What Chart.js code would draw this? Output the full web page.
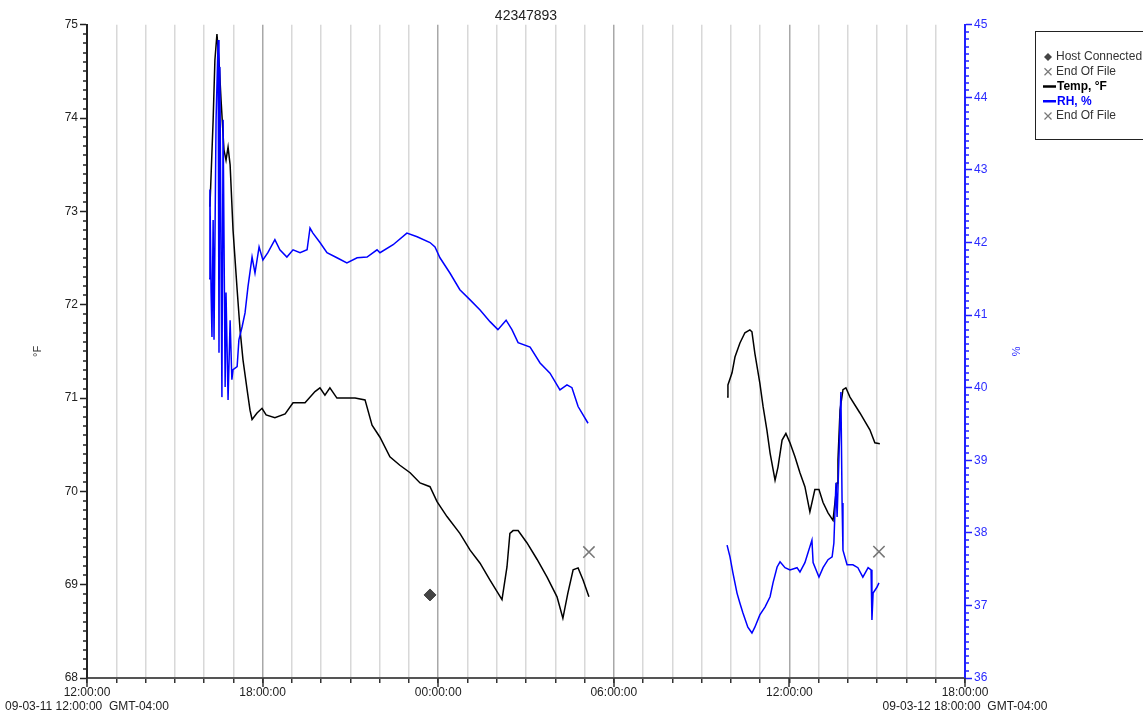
<!DOCTYPE html>
<html>
<head>
<meta charset="utf-8">
<script src="https://cdn.jsdelivr.net/npm/chart.js@4.4.0/dist/chart.umd.min.js"></script>
<style>
  html, body { margin: 0; padding: 0; background: #fff; }
</style>
</head>
<body>
<canvas id="logChart" width="1143" height="715"></canvas>
<script>
const chartTitle = '42347893';

// hours after 09-03-11 12:00:00, null splits the two logging runs
const tempHours = [4.20, 4.31, 4.37, 4.44, 4.51, 4.58, 4.68, 4.75, 4.82, 4.89,
  4.99, 5.13, 5.23, 5.33, 5.47, 5.57, 5.64, 5.81, 5.98, 6.12,
  6.42, 6.77, 7.04, 7.45, 7.79, 7.96, 8.13, 8.30, 8.54, 9.16,
  9.50, 9.74, 10.01, 10.35, 10.69, 11.04, 11.38, 11.72, 11.96, 12.30,
  12.74, 13.09, 13.43, 13.77, 14.18, 14.35, 14.45, 14.56, 14.73, 15.03,
  15.38, 15.72, 16.06, 16.26, 16.43, 16.61, 16.78, 16.95, 17.15,
  19.5,
  21.87, 21.90, 22.04, 22.14, 22.31, 22.48, 22.65, 22.72, 22.82, 22.99,
  23.10, 23.23, 23.34, 23.51, 23.61, 23.75, 23.88, 24.02, 24.19, 24.36,
  24.53, 24.70, 24.87, 25.01, 25.15, 25.32, 25.49, 25.63, 25.66, 25.73,
  25.83, 25.93, 26.07, 26.41, 26.75, 26.92, 27.09];
const tempValues = [73.05, 73.98, 74.62, 74.90, 74.62, 74.20, 73.66, 73.55, 73.69, 73.50,
  72.80, 72.16, 71.73, 71.41, 71.09, 70.87, 70.77, 70.84, 70.89, 70.82,
  70.79, 70.83, 70.95, 70.95, 71.07, 71.11, 71.03, 71.11, 71.00, 71.00,
  70.98, 70.71, 70.58, 70.37, 70.28, 70.20, 70.09, 70.05, 69.89, 69.73,
  69.55, 69.37, 69.23, 69.05, 68.84, 69.19, 69.55, 69.58, 69.58, 69.45,
  69.27, 69.08, 68.87, 68.64, 68.91, 69.16, 69.18, 69.05, 68.87,
  null,
  71.01, 71.14, 71.27, 71.44, 71.59, 71.70, 71.73, 71.71, 71.48, 71.16,
  70.91, 70.66, 70.41, 70.12, 70.26, 70.55, 70.62, 70.52, 70.37, 70.20,
  70.05, 69.78, 70.02, 70.02, 69.88, 69.77, 69.69, 70.09, 70.34, 70.87,
  71.09, 71.11, 71.01, 70.84, 70.66, 70.52, 70.51];

const rhHours = [4.17, 4.20, 4.24, 4.27, 4.31, 4.34, 4.41, 4.48, 4.51, 4.54,
  4.61, 4.65, 4.72, 4.75, 4.82, 4.89, 4.95, 4.99, 5.13, 5.19,
  5.30, 5.40, 5.50, 5.64, 5.74, 5.88, 6.01, 6.18, 6.42, 6.59,
  6.83, 7.04, 7.28, 7.52, 7.62, 7.72, 7.96, 8.20, 8.54, 8.88,
  9.23, 9.57, 9.91, 10.01, 10.46, 10.93, 11.28, 11.72, 11.89, 12.06,
  12.40, 12.74, 13.09, 13.43, 13.77, 14.04, 14.32, 14.52, 14.73, 15.14,
  15.48, 15.82, 16.16, 16.40, 16.57, 16.78, 17.12,
  19.5,
  21.87, 21.97, 22.07, 22.21, 22.31, 22.41, 22.58, 22.72, 22.82, 22.99,
  23.17, 23.34, 23.44, 23.58, 23.68, 23.85, 24.02, 24.26, 24.36, 24.53,
  24.63, 24.77, 24.81, 24.94, 25.01, 25.15, 25.32, 25.46, 25.52, 25.59,
  25.63, 25.69, 25.76, 25.80, 25.83, 25.97, 26.17, 26.34, 26.51, 26.69,
  26.79, 26.82, 26.86, 26.99, 27.06];
const rhValues = [41.50, 42.73, 41.31, 40.70, 42.31, 40.66, 43.69, 44.79, 40.48, 44.42,
  39.87, 43.69, 40.01, 41.31, 39.83, 40.93, 40.11, 40.25, 40.29, 40.66,
  40.84, 41.03, 41.39, 41.80, 41.58, 41.94, 41.76, 41.86, 42.04, 41.90,
  41.80, 41.90, 41.86, 41.90, 42.20, 42.13, 42.00, 41.86, 41.79, 41.72,
  41.79, 41.80, 41.90, 41.86, 41.97, 42.13, 42.08, 42.00, 41.94, 41.79,
  41.58, 41.35, 41.21, 41.07, 40.91, 40.80, 40.93, 40.80, 40.62, 40.56,
  40.34, 40.20, 39.97, 40.04, 40.00, 39.74, 39.51,
  null,
  37.83, 37.67, 37.45, 37.17, 37.03, 36.90, 36.70, 36.62, 36.70, 36.87,
  36.98, 37.12, 37.31, 37.53, 37.60, 37.52, 37.49, 37.52, 37.46, 37.59,
  37.72, 37.90, 37.59, 37.46, 37.39, 37.52, 37.63, 37.67, 37.86, 38.69,
  38.22, 39.00, 39.94, 38.41, 37.76, 37.56, 37.56, 37.52, 37.39, 37.52,
  37.49, 36.80, 37.17, 37.25, 37.31];

const hostHours = [11.72];
const hostValues = [68.89];
const eofTempHours = [17.15];
const eofTempValues = [69.35];
const eofRhHours = [27.06];
const eofRhValues = [37.74];

const tickHours = [0, 6, 12, 18, 24, 30];
const tickLabels = ['12:00:00', '18:00:00', '00:00:00', '06:00:00', '12:00:00', '18:00:00'];
const rangeLabels = ['09-03-11 12:00:00  GMT-04:00', '09-03-12 18:00:00  GMT-04:00'];

const ctx = document.getElementById('logChart');

function points(hours, values) {
    return hours.map((h, i) => ({ x: h, y: values[i] }));
}

Chart.defaults.font.family = '"Liberation Sans", Arial, sans-serif';
Chart.defaults.font.size = 12;

// minor ticks on both value axes, longer ticks every 6 hours
const minorTicks = {
    id: 'minorTicks',
    afterDraw(chart) {
        const c = chart.ctx;
        const y = chart.scales.y;
        const y1 = chart.scales.y1;
        const x = chart.scales.x;
        c.save();
        c.lineWidth = 1.5;
        c.strokeStyle = '#222';
        for (let v = y.min * 10; v <= y.max * 10; v++) {
            if (v % 10 === 0) continue;
            const py = Math.round(y.getPixelForValue(v / 10));
            c.beginPath(); c.moveTo(y.right - 4, py); c.lineTo(y.right, py); c.stroke();
        }
        c.strokeStyle = '#2020ff';
        for (let v = y1.min * 10; v <= y1.max * 10; v++) {
            if (v % 10 === 0) continue;
            const py = Math.round(y1.getPixelForValue(v / 10));
            c.beginPath(); c.moveTo(y1.left, py); c.lineTo(y1.left + 4, py); c.stroke();
        }
        c.strokeStyle = '#333';
        tickHours.forEach(h => {
            const px = Math.round(x.getPixelForValue(h));
            c.beginPath(); c.moveTo(px, x.top); c.lineTo(px, x.top + 9); c.stroke();
        });
        c.restore();
    }
};

// boxed legend at the top right
const boxLegend = {
    id: 'boxLegend',
    afterDraw(chart) {
        const c = chart.ctx;
        const bx = 1035.5, by = 31.5;
        c.save();
        c.strokeStyle = '#222';
        c.lineWidth = 1;
        c.strokeRect(bx, by, 130, 108);
        c.textBaseline = 'middle';
        chart.data.datasets.forEach((ds, i) => {
            const cy = 57 + i * 14.75;
            if (ds.showLine === false) {
                c.strokeStyle = ds.borderColor;
                c.fillStyle = ds.backgroundColor;
                if (ds.pointStyle === 'rectRot') {
                    c.beginPath();
                    c.moveTo(1048, cy - 4); c.lineTo(1052, cy); c.lineTo(1048, cy + 4); c.lineTo(1044, cy);
                    c.closePath(); c.fill();
                } else {
                    c.lineWidth = 1.2;
                    c.beginPath();
                    c.moveTo(1044.5, cy - 3.5); c.lineTo(1051.5, cy + 3.5);
                    c.moveTo(1051.5, cy - 3.5); c.lineTo(1044.5, cy + 3.5);
                    c.stroke();
                }
                c.fillStyle = '#333';
                c.font = '12px "Liberation Sans", Arial, sans-serif';
                c.fillText(ds.label, 1056, cy);
            } else {
                c.strokeStyle = ds.borderColor;
                c.lineWidth = 2.5;
                c.beginPath(); c.moveTo(1043, cy); c.lineTo(1056, cy); c.stroke();
                c.fillStyle = ds.borderColor;
                c.font = 'bold 12px "Liberation Sans", Arial, sans-serif';
                c.fillText(ds.label, 1057, cy);
            }
        });
        c.restore();
    }
};

new Chart(ctx, {
    type: 'line',
    data: {
        datasets: [{
            label: 'Host Connected',
            data: points(hostHours, hostValues),
            showLine: false,
            pointStyle: 'rectRot',
            pointRadius: 6,
            backgroundColor: '#444',
            borderColor: '#444',
            yAxisID: 'y',
            order: 0
        }, {
            label: 'End Of File',
            data: points(eofTempHours, eofTempValues),
            showLine: false,
            pointStyle: 'crossRot',
            pointRadius: 8,
            pointBorderWidth: 1.5,
            backgroundColor: '#777',
            borderColor: '#777',
            yAxisID: 'y',
            order: 0
        }, {
            label: 'Temp, °F',
            data: points(tempHours, tempValues),
            borderColor: '#000',
            borderWidth: 1.5,
            pointRadius: 0,
            spanGaps: false,
            yAxisID: 'y',
            order: 2
        }, {
            label: 'RH, %',
            data: points(rhHours, rhValues),
            borderColor: '#0000ff',
            borderWidth: 1.5,
            pointRadius: 0,
            spanGaps: false,
            yAxisID: 'y1',
            order: 1
        }, {
            label: 'End Of File',
            data: points(eofRhHours, eofRhValues),
            showLine: false,
            pointStyle: 'crossRot',
            pointRadius: 8,
            pointBorderWidth: 1.5,
            backgroundColor: '#777',
            borderColor: '#777',
            yAxisID: 'y1',
            order: 0
        }]
    },
    options: {
        responsive: false,
        animation: false,
        layout: { padding: { left: 0, right: 118, top: 0, bottom: 0 } },
        plugins: {
            legend: { display: false },
            tooltip: { enabled: false },
            title: {
                display: true,
                text: chartTitle,
                fullSize: false,
                color: '#222',
                font: { size: 14, weight: 'normal' },
                padding: { top: 8, bottom: 0 }
            }
        },
        scales: {
            x: {
                type: 'linear',
                min: 0,
                max: 30,
                ticks: {
                    stepSize: 1,
                    autoSkip: false,
                    maxRotation: 0,
                    padding: 2,
                    color: '#222',
                    callback: (value) => {
                        const idx = tickHours.indexOf(value);
                        if (idx < 0) return '';
                        if (idx === 0) return [tickLabels[idx], rangeLabels[0]];
                        if (idx === tickHours.length - 1) return [tickLabels[idx], rangeLabels[1]];
                        return tickLabels[idx];
                    }
                },
                grid: {
                    color: (c) => (c.tick && c.tick.value % 6 === 0) ? '#a8a8a8' : '#d8d8d8',
                    lineWidth: 1.5,
                    tickLength: 5,
                    tickColor: '#333',
                    tickWidth: 1.5
                },
                border: { color: '#555', width: 2 },
                afterFit: (scale) => { scale.height = 37; }
            },
            y: {
                position: 'left',
                min: 68,
                max: 75,
                ticks: { stepSize: 1, color: '#222', padding: 2 },
                grid: { drawOnChartArea: false, tickLength: 7, tickColor: '#222', tickWidth: 1.5 },
                border: { color: '#222', width: 2 },
                title: {
                    display: true,
                    text: '°F',
                    color: '#333',
                    font: { size: 11 },
                    padding: { top: 31, bottom: 0 }
                },
                afterFit: (scale) => { scale.width = 87; }
            },
            y1: {
                position: 'right',
                min: 36,
                max: 45,
                ticks: { stepSize: 1, color: '#2b2bff', padding: 2 },
                grid: { drawOnChartArea: false, tickLength: 7, tickColor: '#2020ff', tickWidth: 1.5 },
                border: { color: '#2020ff', width: 2 },
                title: {
                    display: true,
                    text: '%',
                    color: '#2b2bff',
                    font: { size: 11 },
                    padding: { top: 3, bottom: 0 }
                },
                afterFit: (scale) => { scale.width = 60; }
            }
        }
    },
    plugins: [minorTicks, boxLegend]
});
</script>
</body>
</html>
